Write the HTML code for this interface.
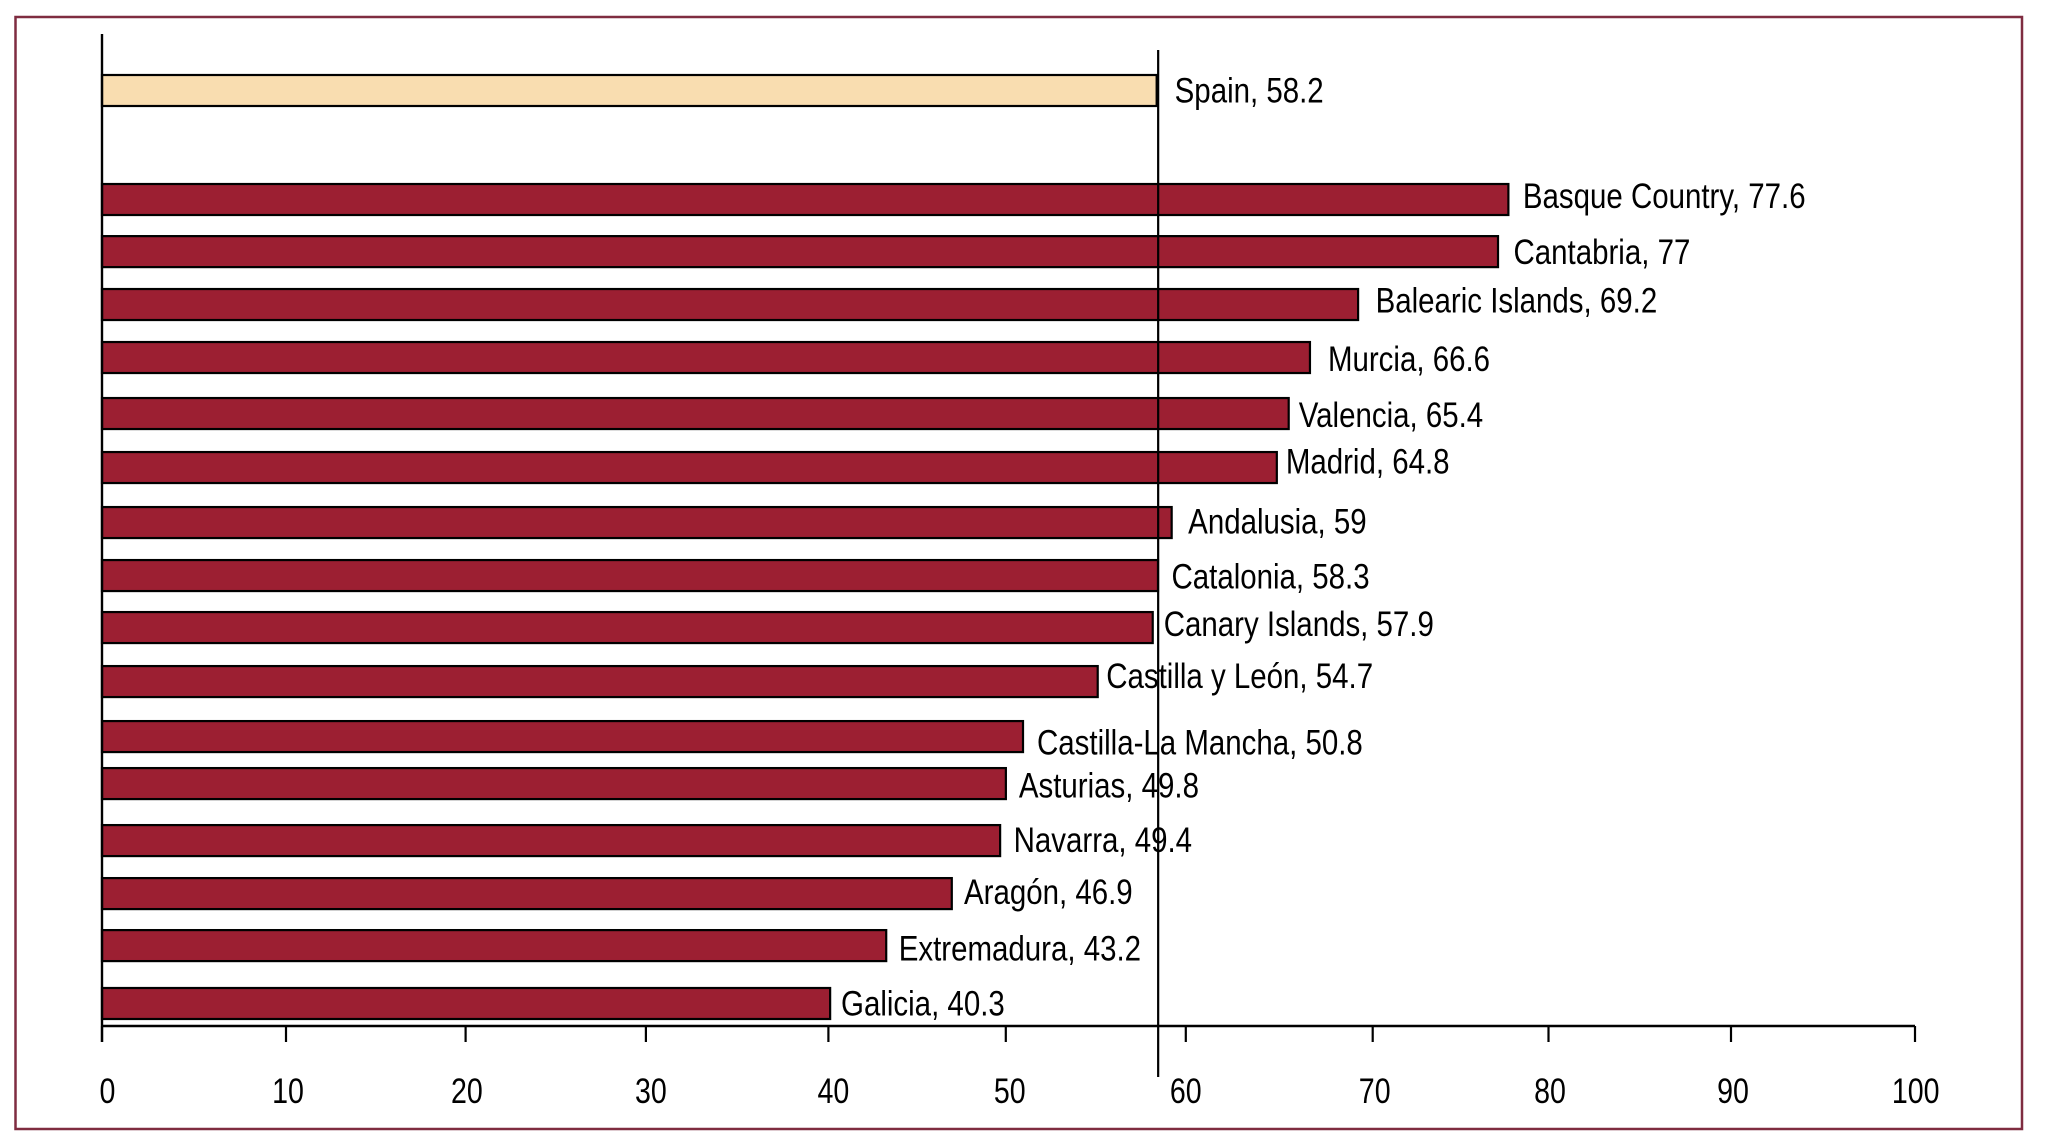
<!DOCTYPE html>
<html lang="en">
<head>
<meta charset="utf-8">
<title>Spain regions bar chart</title>
<style>
html,body{margin:0;padding:0;background:#fff;}
svg{display:block;}
text{font-family:"Liberation Sans",Arial,sans-serif;fill:#000;}
</style>
</head>
<body>
<svg id="chart" xmlns="http://www.w3.org/2000/svg" width="2045" height="1145" viewBox="0 0 2045 1145">
  <rect x="15.5" y="17" width="2006.5" height="1112" fill="#fff" stroke="#7f2c40" stroke-width="2.5"/>
  <g id="bars"></g>
  <line x1="102" y1="34" x2="102" y2="1042" stroke="#000" stroke-width="2.4"/>
  <line x1="102" y1="1026" x2="1915" y2="1026" stroke="#000" stroke-width="2.4"/>
  <g id="ticks"></g>
  <g id="labels"></g>
  <line id="reference-line" y1="50" y2="1077" stroke="#000" stroke-width="2.2"/>
</svg>
<script>
const categories = ["Spain","Basque Country","Cantabria","Balearic Islands","Murcia","Valencia","Madrid","Andalusia","Catalonia","Canary Islands","Castilla y León","Castilla-La Mancha","Asturias","Navarra","Aragón","Extremadura","Galicia"];
const values = [58.2,77.6,77,69.2,66.6,65.4,64.8,59,58.3,57.9,54.7,50.8,49.8,49.4,46.9,43.2,40.3];
const tickLabels = [0,10,20,30,40,50,60,70,80,90,100];
const referenceValue = 58.2;

// The original artwork was hand-adjusted; these are small layout offsets from the regular axis positions.
const rowShift = [0,1.6,0,-0.8,-1.5,0.8,1.1,2.4,1.7,0,0.3,1.6,-5.1,-1.8,-2.5,-4.2,0];
const barEndShift = [-0.5,-0.5,0,1.5,0.5,1,0,0,-1,1,4,0,1,2.5,-0.5,1,-2.5];
const labelGap = [17.5,14,15.5,19,18.5,11,9,16.5,12.5,12,12.5,14,14,16,11.7,13.5,8.4];
const labelDrop = [27.7,24,28,23.7,29,29,21.5,26.5,28.5,24,22,33.5,29.5,27,26,30.5,27.5];
const tickShift = [0,2.7,1,0,1.2,-2.7,-4,1.6,-3.9,-2.7,0];
const tickLabelShift = [5.5,2,1.3,5,5,4,0,2,1.5,2,0.7];

const NS = "http://www.w3.org/2000/svg";
const x = v => 102 + v * 18.13;
const rowY = i => 75 + i * (988 - 75) / 17;
const slot = i => (i === 0 ? 0 : i + 1);

function make(tag, attrs, parent) {
  const el = document.createElementNS(NS, tag);
  for (const k in attrs) el.setAttribute(k, attrs[k]);
  parent.appendChild(el);
  return el;
}
const slug = s => s.toLowerCase().normalize("NFD").replace(/[^a-z]+/g, "-").replace(/-+$/, "");

const barsG = document.getElementById("bars");
const labelsG = document.getElementById("labels");
const ticksG = document.getElementById("ticks");

categories.forEach((name, i) => {
  const top = rowY(slot(i)) + rowShift[i];
  const bar = make("rect", {x: 102, y: top, width: x(values[i]) - 102 + barEndShift[i], height: 31, fill: i === 0 ? "#f9ddb0" : "#9c1f32", stroke: "#000", "stroke-width": 2.2}, barsG);
  
  
  const t = make("text", {transform: "translate(" + (x(values[i]) + labelGap[i]) + "," + (top + labelDrop[i]) + ") scale(0.83,1)", "font-size": 35.5}, labelsG);
  t.textContent = name + ", " + values[i];
  
  
});

tickLabels.forEach((v, i) => {
  const px = x(v) + tickShift[i];
  const mark = make("line", {x1: px, x2: px, y1: 1026, y2: 1042, stroke: "#000", "stroke-width": 2.2}, ticksG);
  
  
  const t = make("text", {transform: "translate(" + (px + tickLabelShift[i]) + ",1103) scale(0.805,1)", "font-size": 35.5, "text-anchor": "middle"}, ticksG);
  t.textContent = v;
  
  
});

const ref = document.getElementById("reference-line");
ref.setAttribute("x1", x(referenceValue) + 1);
ref.setAttribute("x2", x(referenceValue) + 1);
</script>
</body>
</html>
